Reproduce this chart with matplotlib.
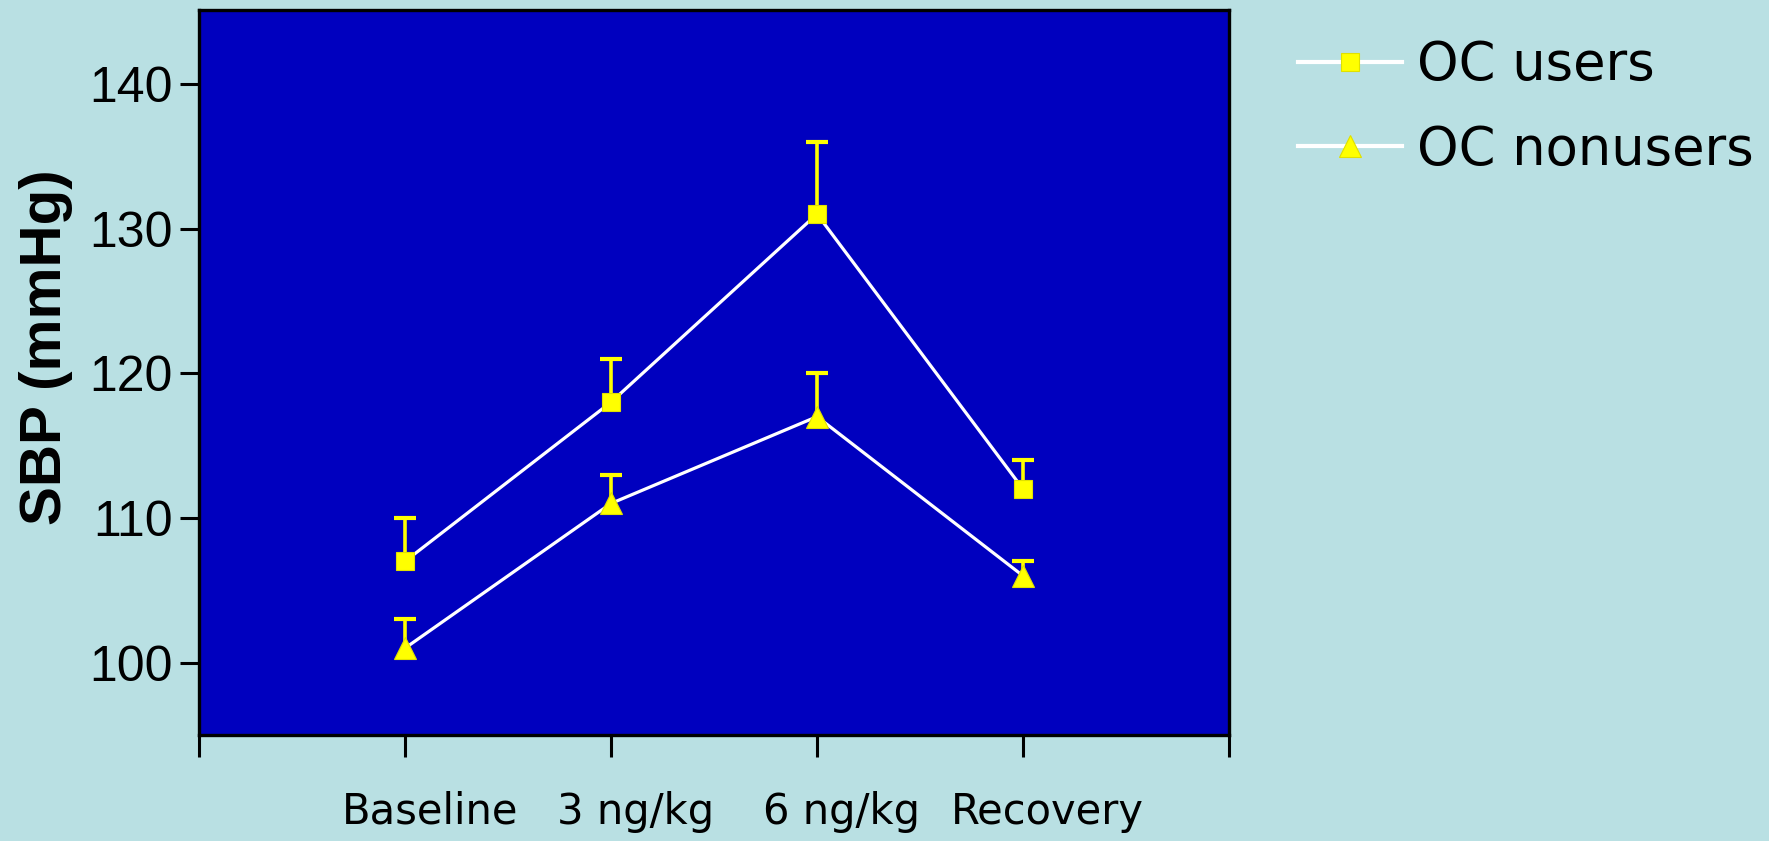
import matplotlib
matplotlib.use("Agg")
import matplotlib.pyplot as plt
import numpy as np

# Conditions along the x axis
conditions = ["Baseline", "3 ng/kg", "6 ng/kg", "Recovery"]
positions = [1, 2, 3, 4]

# Systolic blood pressure (mmHg) and upper error (SEM)
oc_users = [107, 118, 131, 112]
oc_users_err = [3, 3, 5, 2]
oc_nonusers = [101, 111, 117, 106]
oc_nonusers_err = [2, 2, 3, 1]

bg = "#b9e0e3"
panel = "#0000bf"
yellow = "#ffff00"

fig = plt.figure(figsize=(17.69, 8.41), dpi=100, facecolor=bg)
ax = fig.add_axes([199 / 1769, 1 - 735 / 841, 1030 / 1769, 725 / 841])
ax.set_facecolor(panel)

for vals, errs, marker, ms, label in [
    (oc_users, oc_users_err, "s", 13, "OC users"),
    (oc_nonusers, oc_nonusers_err, "^", 16, "OC nonusers"),
]:
    _, caps, _ = ax.errorbar(positions, vals, yerr=[np.zeros(len(errs)), errs],
                             fmt="none", ecolor=yellow, elinewidth=2.6,
                             capsize=8, capthick=3, zorder=2)
    # one-sided bars: keep only the upper caps
    for cap in caps:
        if np.allclose(cap.get_ydata(), vals):
            cap.set_visible(False)
    ax.plot(positions, vals, color="white", lw=2.3, marker=marker,
            ms=ms, mfc=yellow, mec="#e0e000", mew=0.8, label=label, zorder=3)

ax.set_xlim(0, 5)
ax.set_ylim(95, 145.1)

# major ticks mark the category boundaries; labels sit on slightly shifted minor ticks
ax.set_xticks(range(6))
ax.set_xticklabels([])
ax.set_xticks([p + 0.12 for p in positions], minor=True)
ax.set_xticklabels(conditions, minor=True, family="DejaVu Sans", fontsize=30)
ax.tick_params(axis="x", which="minor", length=0, pad=40)

ax.set_yticks([100, 110, 120, 130, 140])
for lbl in ax.get_yticklabels():
    lbl.set_family("Liberation Sans")
    lbl.set_fontsize(36)

ax.tick_params(axis="x", which="major", length=16, width=2.2, color="black")
ax.tick_params(axis="y", length=14, width=2.2, color="black", pad=5)
for sp in ax.spines.values():
    sp.set_linewidth(2.4)
    sp.set_color("black")

ax.set_ylabel("SBP (mmHg)", family="Liberation Sans", fontweight="bold",
              fontsize=42, va="center", ha="center")
ax.yaxis.set_label_coords(-0.1485, (735 - 347) / 725)

leg = fig.legend(loc="upper left", bbox_to_anchor=(1298 / 1769, 1 - 39 / 841),
                 frameon=False, prop={"family": "DejaVu Sans", "size": 38},
                 handlelength=1.97, handletextpad=0.28, labelspacing=0.62,
                 borderpad=0, borderaxespad=0)
for line in leg.get_lines():
    line.set_linewidth(3)

fig.savefig("out.png", dpi=100, facecolor=bg)
